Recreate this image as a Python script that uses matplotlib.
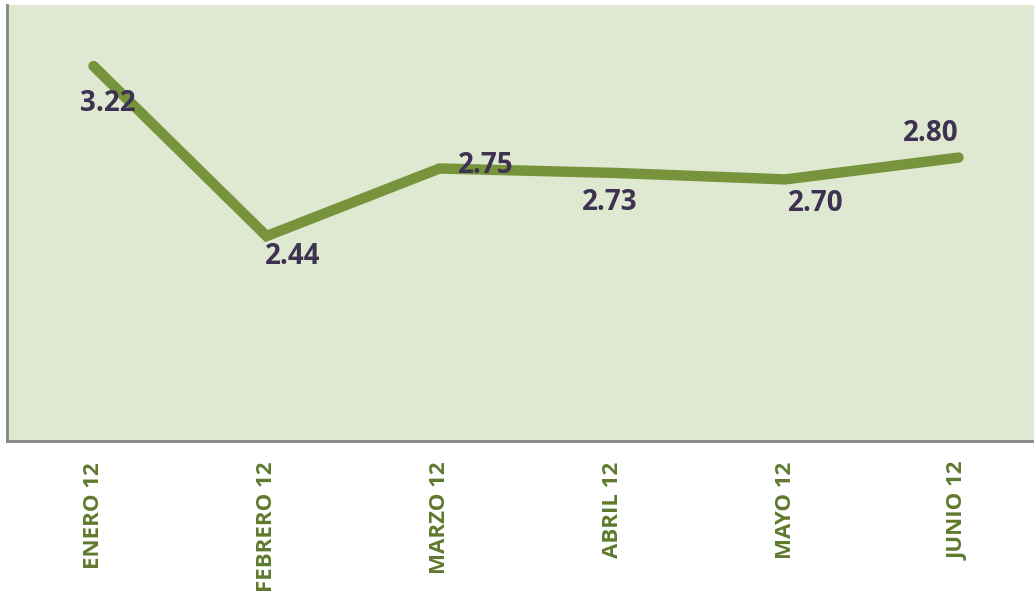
import matplotlib
matplotlib.use('Agg')
from matplotlib import pyplot as plt

months = ['ENERO 12', 'FEBRERO 12', 'MARZO 12', 'ABRIL 12', 'MAYO 12', 'JUNIO 12']
values = [3.22, 2.44, 2.75, 2.73, 2.70, 2.80]
labels = ['3.22', '2.44', '2.75', '2.73', '2.70', '2.80']
# label offsets in points (dx, dy) from each point
offsets = [(10, -27), (19, -15), (33, 2), (-2, -21), (22, -17), (-20, 17)]


def main():
    fig = plt.figure(figsize=(10.34, 6.02), dpi=100)
    ax = fig.add_axes([7 / 1034, 1 - 441 / 602, 1038 / 1034, 436 / 602])
    ax.set_facecolor('#DFE8D0')
    x = list(range(len(months)))
    ax.plot(x, values, color='#77933C', linewidth=7.5, solid_capstyle='round',
            solid_joinstyle='miter')
    for i, (v, lab) in enumerate(zip(values, labels)):
        ax.annotate(lab, (i, v), xytext=offsets[i], textcoords='offset points',
                    ha='center', va='center', fontsize=20, fontweight='bold',
                    family='Open Sans', color='#3F3151')
    ax.set_xlim(-0.5, 5.5)
    ax.set_ylim(1.5, 3.5)
    ax.set_yticks([])
    ax.set_xticks(x)
    ax.set_xticklabels(months, rotation=90, fontsize=16, fontweight='bold',
                       family='Open Sans', color='#5F7A2E')
    ax.tick_params(axis='x', length=0, pad=15)
    for s in ['top', 'right']:
        ax.spines[s].set_visible(False)
    for s in ['left', 'bottom']:
        ax.spines[s].set_color('#868686')
        ax.spines[s].set_linewidth(2)
    fig.savefig('out.png', dpi=100)


if __name__ == '__main__':
    main()
